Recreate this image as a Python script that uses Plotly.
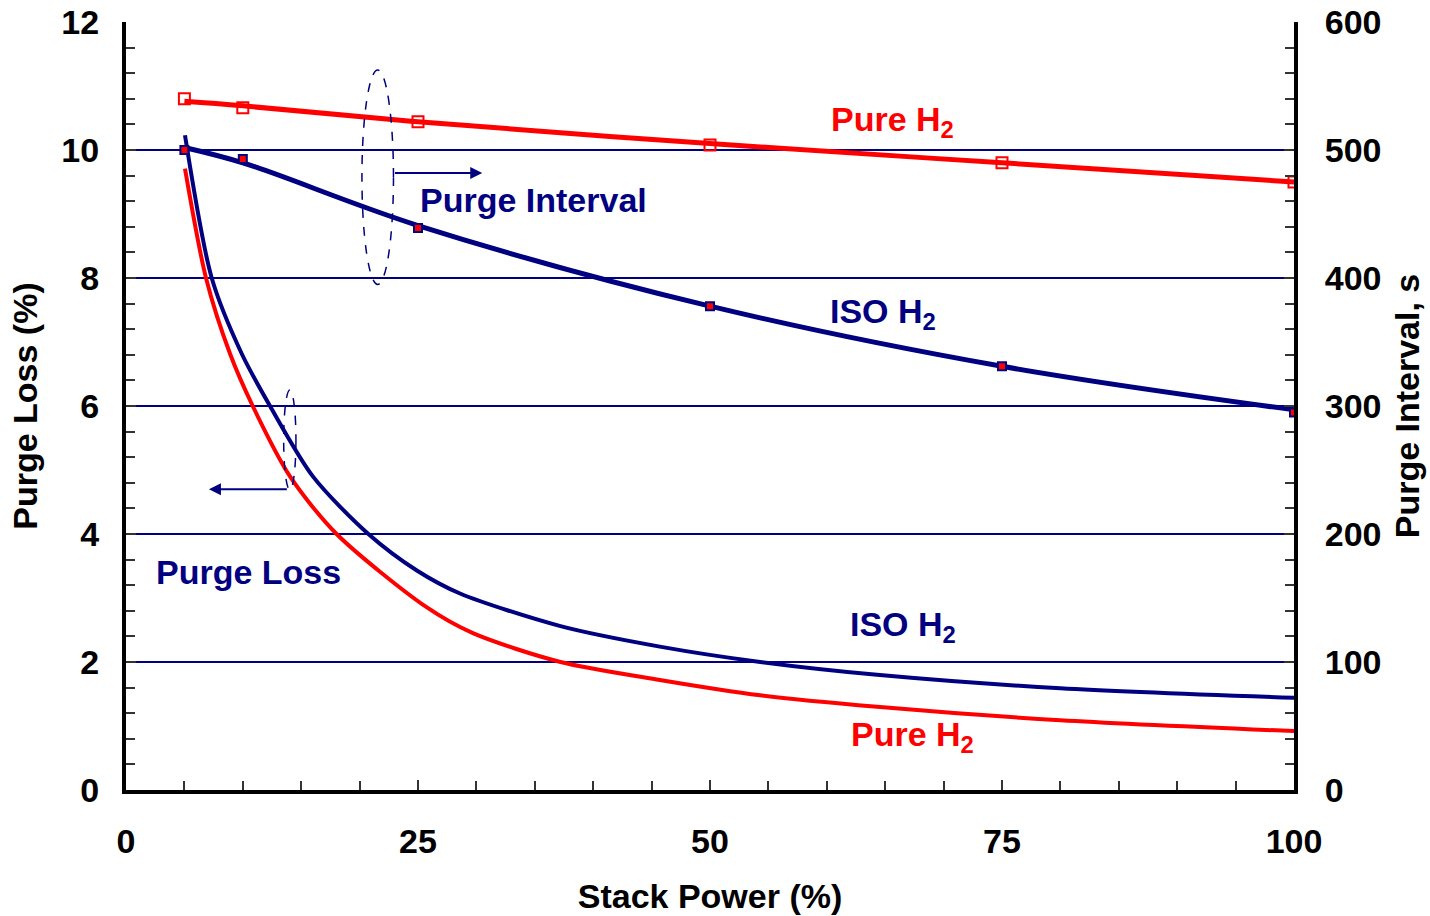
import plotly.graph_objects as go

# Purge loss curves (left axis, %)
iso_loss_x = [5.05, 7.34, 9.9, 12.33, 16.0, 20.75, 24.9, 28.6, 37.2, 45.7, 54.3, 64.3, 80, 100]
iso_loss_y = [10.23, 8.0, 6.82, 6.0, 4.9, 4.0, 3.43, 3.07, 2.56, 2.24, 2.0, 1.80, 1.59, 1.44]
pure_loss_x = [5.05, 6.85, 8.9, 10.85, 14.04, 18.03, 25.7, 29.7, 37.2, 45.7, 54.3, 64.3, 80, 100]
pure_loss_y = [9.71, 8.0, 6.82, 6.0, 4.9, 4.0, 2.86, 2.45, 2.0, 1.72, 1.48, 1.30, 1.09, 0.92]

# Purge interval (right axis, s)
power_pts = [5, 10, 25, 50, 75, 100]
pure_int_pts = [540, 533, 522, 504, 490, 475]
iso_int_pts = [500, 493, 439, 378, 331, 295]
pure_int_fit = [538, 534.5, 522, 505, 490, 475]
iso_int_fit = [502, 490, 441, 378, 331, 297]

x_ticks = [0, 25, 50, 75, 100]

NAVY = "#000080"
RED = "#FF0000"
FONT = "Liberation Sans, Arial, sans-serif"

fig = go.Figure()

fig.add_trace(go.Scatter(x=pure_loss_x, y=pure_loss_y, mode="lines",
                         line=dict(color=RED, width=4, shape="spline", smoothing=0.8),
                         yaxis="y", showlegend=False))
fig.add_trace(go.Scatter(x=iso_loss_x, y=iso_loss_y, mode="lines",
                         line=dict(color=NAVY, width=4, shape="spline", smoothing=0.8),
                         yaxis="y", showlegend=False))

fig.add_trace(go.Scatter(x=power_pts, y=pure_int_pts, mode="markers",
                         marker=dict(symbol="square-open", size=11, color=RED, line=dict(width=2, color=RED)),
                         yaxis="y2", showlegend=False))
fig.add_trace(go.Scatter(x=power_pts, y=pure_int_fit, mode="lines",
                         line=dict(color=RED, width=5, shape="spline"),
                         yaxis="y2", showlegend=False))
fig.add_trace(go.Scatter(x=power_pts, y=iso_int_fit, mode="lines",
                         line=dict(color=NAVY, width=5, shape="spline"),
                         yaxis="y2", showlegend=False))
fig.add_trace(go.Scatter(x=power_pts, y=iso_int_pts, mode="markers",
                         marker=dict(symbol="square", size=8, color=RED, line=dict(width=2, color=NAVY)),
                         yaxis="y2", showlegend=False))

tickfont = dict(family=FONT, size=34, color="black", weight="bold")
titlefont = dict(family=FONT, size=34, color="black", weight="bold")

fig.update_layout(
    width=1430, height=916,
    margin=dict(l=126, r=136, t=22, b=126),
    plot_bgcolor="white", paper_bgcolor="white",
    xaxis=dict(range=[0, 100], tickvals=x_ticks, ticks="inside", ticklen=10, tickwidth=1.5, tickcolor="#333",
               minor=dict(dtick=5, ticks="inside", ticklen=9, tickwidth=1.5, tickcolor="#333"),
               showline=True, linecolor="black", linewidth=4, showgrid=False, zeroline=False,
               tickfont=tickfont, ticklabelstandoff=18, automargin=False,
               title=dict(text="Stack Power (%)", font=titlefont, standoff=26)),
    yaxis=dict(range=[0, 12], dtick=2, ticks="inside", ticklen=10, tickwidth=1.5, tickcolor="#333",
               minor=dict(dtick=0.4, ticks="inside", ticklen=9, tickwidth=1.5, tickcolor="#333", showgrid=False),
               showline=True, linecolor="black", linewidth=4, showgrid=True, gridcolor=NAVY, gridwidth=1.5,
               zeroline=False, tickfont=tickfont, ticklabelstandoff=16, automargin=False,
               title=dict(text="Purge Loss (%)", font=titlefont, standoff=14)),
    yaxis2=dict(range=[0, 600], dtick=100, overlaying="y", side="right", ticks="inside", ticklen=10,
                tickwidth=1.5, tickcolor="#333",
                minor=dict(dtick=20, ticks="inside", ticklen=9, tickwidth=1.5, tickcolor="#333", showgrid=False),
                showline=True, linecolor="black", linewidth=4, showgrid=False, zeroline=False,
                tickfont=tickfont, ticklabelstandoff=20, automargin=False,
                title=dict(text="Purge Interval, s", font=titlefont, standoff=16)),
)

labfont_navy = dict(family=FONT, size=34, color=NAVY, weight="bold")
labfont_red = dict(family=FONT, size=34, color=RED, weight="bold")

labels = [
    (65.6, 10.45, "Pure H<sub>2</sub>", labfont_red),
    (64.8, 7.45, "ISO H<sub>2</sub>", labfont_navy),
    (34.9, 9.22, "Purge Interval", labfont_navy),
    (10.5, 3.41, "Purge Loss", labfont_navy),
    (66.5, 2.55, "ISO H<sub>2</sub>", labfont_navy),
    (67.3, 0.83, "Pure H<sub>2</sub>", labfont_red),
]
for x, y, t, f in labels:
    fig.add_annotation(x=x, y=y, xref="x", yref="y", text=t, showarrow=False, font=f)

# dashed ellipses
fig.add_shape(type="circle", xref="x", yref="y", x0=20.2, x1=22.9, y0=7.9, y1=11.25,
              line=dict(color=NAVY, width=1.5, dash="dash"))
fig.add_shape(type="circle", xref="x", yref="y", x0=13.5, x1=14.55, y0=4.69, y1=6.25,
              line=dict(color=NAVY, width=1.5, dash="dash"))

# arrows
fig.add_annotation(x=30.5, y=9.64, ax=22.9, ay=9.64, xref="x", yref="y", axref="x", ayref="y",
                   text="", showarrow=True, arrowhead=2, arrowsize=1.2, arrowwidth=2, arrowcolor=NAVY)
fig.add_annotation(x=7.1, y=4.7, ax=13.9, ay=4.7, xref="x", yref="y", axref="x", ayref="y",
                   text="", showarrow=True, arrowhead=2, arrowsize=1.2, arrowwidth=2, arrowcolor=NAVY)

fig.write_html("out.html")
